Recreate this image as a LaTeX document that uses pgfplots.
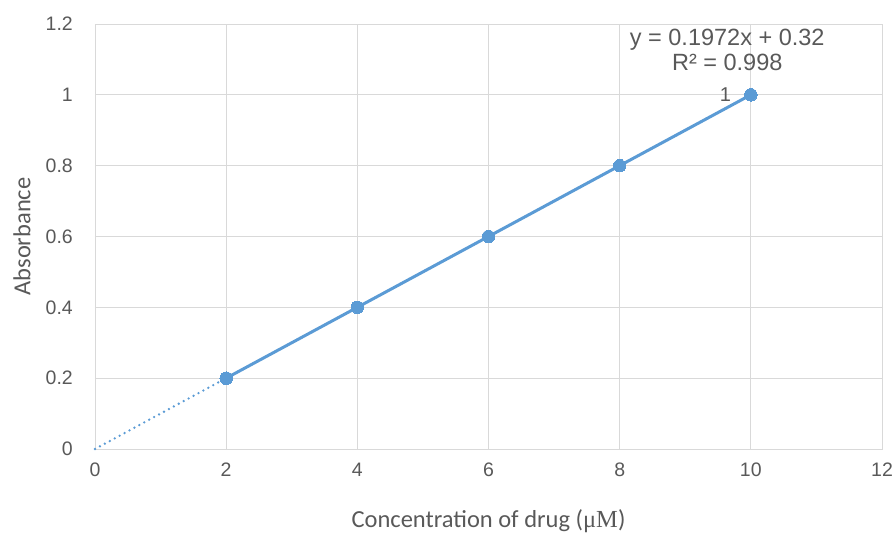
\documentclass[border=0pt]{standalone}
\usepackage{fontspec}
\setmainfont{Liberation Sans}
\newfontfamily\calibri{Carlito}
\newfontfamily\timesf{Liberation Serif}
\usepackage{pgfplots}
\pgfplotsset{compat=1.18}
\definecolor{excelblue}{RGB}{91,155,213}
\definecolor{gridgray}{RGB}{217,217,217}
\definecolor{txtgray}{RGB}{89,89,89}
\begin{document}
\begin{tikzpicture}[x=1pt,y=1pt]
\useasboundingbox (-95,-86) rectangle (801,449);
\begin{axis}[
  at={(0,0)}, anchor=south west,
  scale only axis, width=787pt, height=425pt,
  xmin=0, xmax=12, ymin=0, ymax=1.2,
  xtick={0,2,...,12}, ytick={0,0.2,...,1.2},
  yticklabel style={/pgf/number format/fixed,/pgf/number format/precision=1},
  /pgf/number format/assume math mode=true,
  grid=major, major grid style={gridgray, line width=0.9pt},
  axis line style={gridgray, line width=0.9pt},
  tick style={draw=none},
  ticklabel style={font=\fontsize{19.5}{22}\selectfont, text=txtgray, inner sep=0pt},
  xticklabel style={anchor=center, yshift=-21pt},
  yticklabel style={anchor=east, xshift=-22pt},
  xlabel={\calibri Concentration of drug ({\timesf μM})},
  ylabel={\calibri Absorbance},
  label style={font=\fontsize{24.5}{28}\selectfont, text=txtgray, inner sep=0pt},
  xlabel style={at={(axis description cs:0.5,-0.1694)}, anchor=center},
  ylabel style={at={(axis description cs:-0.0928,0.5)}, anchor=center},
  clip=false,
]
\addplot[excelblue, line width=2.6pt, line cap=round, dash pattern=on 0pt off 5.6pt] coordinates {(0,0) (10,1)};
\addplot[excelblue, line width=3pt, mark=*, mark size=6.3pt, mark options={solid, fill=excelblue, draw=excelblue, line width=0pt}] coordinates {
(2,0.2) (4,0.4) (6,0.6) (8,0.8) (10,1)};
\node[font=\fontsize{23.5}{25}\selectfont, text=txtgray, align=center, anchor=center, inner sep=0pt] at (axis cs:9.64,1.128) {y = 0.1972x + 0.32\\R² = 0.998};
\node[font=\fontsize{20}{22}\selectfont, text=txtgray, anchor=east, inner sep=0pt] at (axis cs:9.70,1.0) {1};
\end{axis}
\end{tikzpicture}
\end{document}
